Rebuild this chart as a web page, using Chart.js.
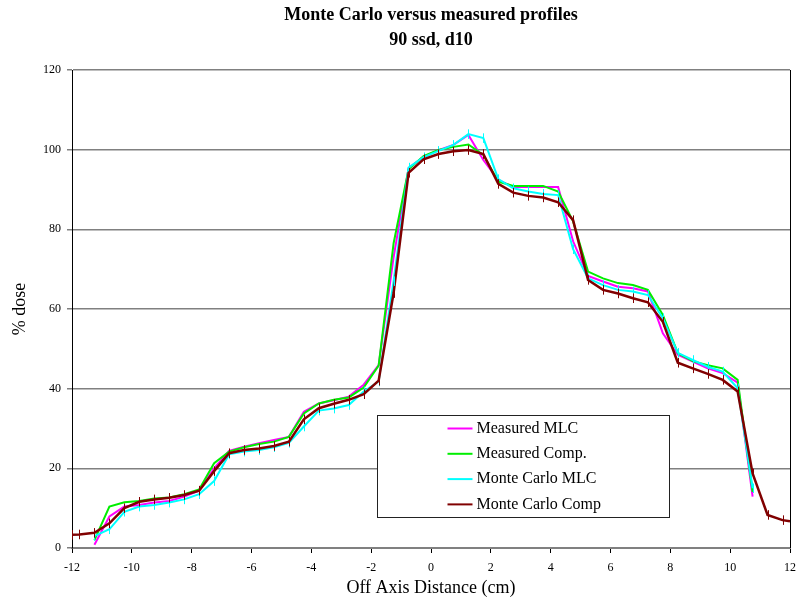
<!DOCTYPE html>
<html>
<head>
<meta charset="utf-8">
<title>Monte Carlo versus measured profiles</title>
<script src="https://cdn.jsdelivr.net/npm/chart.js@4.4.1/dist/chart.umd.min.js"></script>
<style>
  html, body { margin: 0; padding: 0; background: #fff; }
  #wrap { width: 797px; height: 607px; }
</style>
</head>
<body>
<div id="wrap"><canvas id="profileChart" width="797" height="607"></canvas></div>
<script>
// off axis positions (cm) shared by the measured and MC MLC profiles
const xMeasured = [
    -11.25, -10.75, -10.25, -9.75, -9.25, -8.75, -8.25, -7.75, -7.25, -6.75,
    -6.25, -5.75, -5.25, -4.75, -4.25, -3.75, -3.25, -2.75, -2.25, -1.75,
    -1.25, -0.75, -0.25, 0.25, 0.75, 1.25, 1.75, 2.25, 2.75, 3.25,
    3.75, 4.25, 4.75, 5.25, 5.75, 6.25, 6.75, 7.25, 7.75, 8.25,
    8.75, 9.25, 9.75, 10.25, 10.75
];

const measuredMLC = [
    0.8, 7.9, 10.4, 10.8, 11.4, 11.8, 12.9, 14.4, 20.0, 24.4,
    25.4, 26.3, 27.1, 27.9, 34.2, 36.3, 37.1, 38.0, 41.0, 45.9,
    73.0, 95.3, 98.2, 99.9, 101.2, 103.7, 97.4, 92.4, 90.6, 90.6,
    90.6, 90.6, 77.0, 68.3, 66.9, 65.6, 65.2, 64.4, 53.9, 48.5,
    46.8, 45.1, 43.9, 41.5, 12.9
];

const measuredComp = [
    2.0, 10.4, 11.5, 11.8, 12.4, 12.7, 13.5, 14.7, 21.3, 24.2,
    25.3, 26.1, 26.7, 27.9, 33.8, 36.3, 37.2, 37.8, 40.3, 45.8,
    76.5, 95.1, 98.4, 99.9, 100.7, 101.3, 98.7, 92.0, 90.9, 90.9,
    90.9, 89.5, 82.0, 69.4, 67.7, 66.5, 66.0, 64.8, 58.5, 48.9,
    46.9, 45.9, 45.1, 42.2, 14.1
];

const mcMLC = [
    3.0, 4.7, 9.1, 10.4, 10.8, 11.4, 12.2, 13.5, 16.8, 23.5,
    24.2, 24.6, 25.3, 26.4, 30.5, 34.5, 35.0, 35.9, 39.3, 41.8,
    67.0, 95.5, 98.1, 99.7, 101.2, 103.9, 102.9, 92.6, 90.3, 89.5,
    88.9, 88.6, 75.0, 67.7, 66.0, 64.8, 64.4, 63.5, 57.7, 49.0,
    47.2, 45.5, 44.3, 40.1, 15.0
];

// the MC compensator profile runs across the full field
const xMcComp = [
    -12, -11.75, -11.25, -10.75, -10.25, -9.75, -9.25, -8.75, -8.25, -7.75,
    -7.25, -6.75, -6.25, -5.75, -5.25, -4.75, -4.25, -3.75, -3.25, -2.75,
    -2.25, -1.75, -1.25, -0.75, -0.25, 0.25, 0.75, 1.25, 1.75, 2.25,
    2.75, 3.25, 3.75, 4.25, 4.75, 5.25, 5.75, 6.25, 6.75, 7.25,
    7.75, 8.25, 8.75, 9.25, 9.75, 10.25, 10.75, 11.25, 11.75, 12
];

const mcComp = [
    3.3, 3.4, 3.8, 6.2, 10.0, 11.6, 12.2, 12.6, 13.3, 14.4,
    19.3, 23.8, 24.6, 25.0, 25.6, 26.7, 32.3, 35.1, 36.2, 37.2,
    38.6, 42.0, 64.0, 94.2, 97.6, 98.9, 99.6, 99.9, 98.9, 91.4,
    89.2, 88.4, 88.0, 86.8, 82.3, 67.3, 64.8, 63.9, 62.7, 61.7,
    56.8, 46.5, 45.1, 43.7, 42.2, 39.3, 18.7, 8.3, 7.0, 6.7
];

// statistical uncertainty (% dose) drawn as bars on the MC points
const MC_ERR = 1.2;

const FONT = "'Liberation Serif', 'Times New Roman', serif";

function toPoints(xs, ys) {
    return xs.map((x, i) => ({ x, y: ys[i] }));
}

// vertical error bars on datasets flagged with errorBar
const errorBars = {
    id: "errorBars",
    afterDatasetsDraw(chart) {
        const { ctx, scales } = chart;
        chart.data.datasets.forEach((ds, i) => {
            if (!ds.errorBar || !chart.isDatasetVisible(i)) return;
            ctx.save();
            ctx.strokeStyle = ds.borderColor;
            ctx.lineWidth = 1;
            ds.data.forEach(p => {
                const px = Math.round(scales.x.getPixelForValue(p.x)) + 0.5;
                ctx.beginPath();
                ctx.moveTo(px, scales.y.getPixelForValue(p.y + ds.errorBar));
                ctx.lineTo(px, scales.y.getPixelForValue(Math.max(0, p.y - ds.errorBar)));
                ctx.stroke();
            });
            ctx.restore();
        });
    }
};

// right edge of the plot frame
const plotFrame = {
    id: "plotFrame",
    afterDraw(chart) {
        const { ctx, chartArea } = chart;
        ctx.save();
        ctx.strokeStyle = "#000";
        ctx.lineWidth = 1;
        ctx.beginPath();
        ctx.moveTo(chartArea.right + 0.5, chartArea.top);
        ctx.lineTo(chartArea.right + 0.5, chartArea.bottom);
        ctx.stroke();
        ctx.restore();
    }
};

// boxed legend sitting inside the lower part of the plot
const boxLegend = {
    id: "boxLegend",
    afterDraw(chart, args, opts) {
        const { ctx, chartArea } = chart;
        const w = chartArea.right - chartArea.left;
        const h = chartArea.bottom - chartArea.top;
        const left = Math.round(chartArea.left + opts.left * w) + 0.5;
        const right = Math.round(chartArea.left + opts.right * w) + 0.5;
        const top = Math.round(chartArea.top + opts.top * h) + 0.5;
        const bottom = Math.round(chartArea.top + opts.bottom * h) + 0.5;

        ctx.save();
        ctx.fillStyle = "#fff";
        ctx.fillRect(left, top, right - left, bottom - top);
        ctx.strokeStyle = "#222";
        ctx.lineWidth = 1;
        ctx.strokeRect(left, top, right - left, bottom - top);

        ctx.font = opts.fontSize + "px " + FONT;
        ctx.textBaseline = "middle";
        ctx.textAlign = "left";
        chart.data.datasets.forEach((ds, i) => {
            const y = top + opts.firstRow + i * opts.rowGap;
            ctx.strokeStyle = ds.borderColor;
            ctx.lineWidth = 2;
            ctx.beginPath();
            ctx.moveTo(left + opts.lineStart, y);
            ctx.lineTo(left + opts.lineStart + opts.lineLen, y);
            ctx.stroke();
            ctx.fillStyle = "#000";
            ctx.fillText(ds.label, left + opts.textStart, y);
        });
        ctx.restore();
    }
};

Chart.defaults.color = "#000";
Chart.defaults.font.family = FONT;

new Chart(document.getElementById("profileChart"), {
    type: "line",
    data: {
        datasets: [
            {
                label: "Measured MLC",
                data: toPoints(xMeasured, measuredMLC),
                borderColor: "#ff00ff",
                borderWidth: 2,
                order: 3
            },
            {
                label: "Measured Comp.",
                data: toPoints(xMeasured, measuredComp),
                borderColor: "#00ee00",
                borderWidth: 2,
                order: 2
            },
            {
                label: "Monte Carlo MLC",
                data: toPoints(xMeasured, mcMLC),
                borderColor: "#00ffff",
                borderWidth: 2,
                errorBar: MC_ERR,
                order: 1
            },
            {
                label: "Monte Carlo Comp",
                data: toPoints(xMcComp, mcComp),
                borderColor: "#800000",
                borderWidth: 2.5,
                errorBar: MC_ERR,
                order: 0
            }
        ]
    },
    options: {
        responsive: false,
        animation: false,
        elements: {
            point: { radius: 0, hoverRadius: 0 },
            line: { tension: 0, fill: false }
        },
        layout: {
            padding: { top: 0, right: 0, bottom: 0, left: 0 }
        },
        plugins: {
            legend: { display: false },
            tooltip: { enabled: false },
            title: {
                display: true,
                fullSize: false,
                text: ["Monte Carlo versus measured profiles", "90 ssd, d10"],
                font: { family: FONT, size: 18, weight: "bold", lineHeight: 1.4 },
                padding: { top: 3, bottom: 16.6 }
            },
            boxLegend: {
                left: 0.4248,
                right: 0.8315,
                top: 0.7218,
                bottom: 0.9351,
                firstRow: 13,
                rowGap: 25.3,
                lineStart: 70,
                lineLen: 25,
                textStart: 99,
                fontSize: 16
            }
        },
        scales: {
            x: {
                type: "linear",
                min: -12,
                max: 12,
                afterFit: s => {
                    s.height = 59;
                    s.paddingLeft = 0;
                    s.paddingRight = 7;
                },
                ticks: {
                    stepSize: 2,
                    padding: 8,
                    font: { family: FONT, size: 12 }
                },
                grid: {
                    drawOnChartArea: false,
                    drawTicks: true,
                    tickLength: 5,
                    color: "#000"
                },
                border: { display: true, color: "#808080", width: 2 },
                title: {
                    display: true,
                    text: "Off Axis Distance (cm)",
                    font: { family: FONT, size: 18 },
                    padding: { top: 0, bottom: 8.2 }
                }
            },
            y: {
                min: 0,
                max: 120,
                afterFit: s => { s.width = 72; },
                ticks: {
                    stepSize: 20,
                    padding: 6,
                    font: { family: FONT, size: 12 }
                },
                grid: {
                    color: "#808080",
                    lineWidth: 1.5,
                    drawTicks: true,
                    tickLength: 5
                },
                border: { display: true, color: "#000", width: 1 },
                title: {
                    display: true,
                    text: "% dose",
                    font: { family: FONT, size: 18 },
                    padding: { top: 9.2, bottom: 0 }
                }
            }
        }
    },
    plugins: [errorBars, plotFrame, boxLegend]
});
</script>
</body>
</html>
